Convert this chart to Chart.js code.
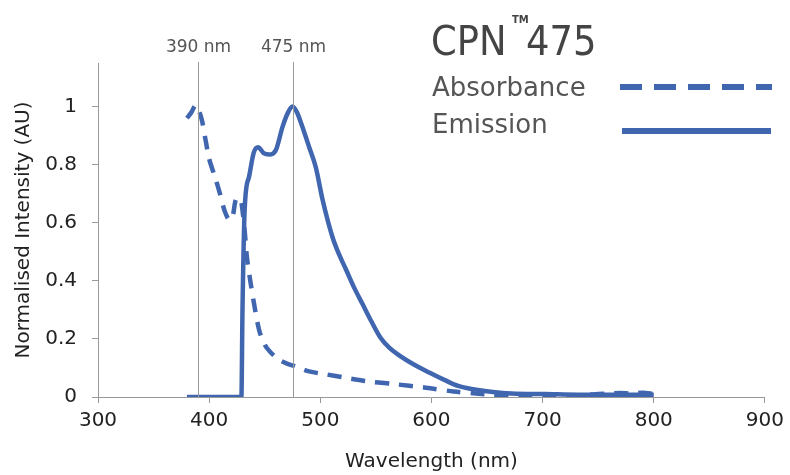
<!DOCTYPE html>
<html>
<head>
<meta charset="utf-8">
<script src="https://cdn.jsdelivr.net/npm/chart.js@4.4.1/dist/chart.umd.min.js"></script>
<style>
html,body{margin:0;padding:0;background:#fff;}
#wrap{width:790px;height:475px;position:relative;}
</style>
</head>
<body>
<div id="wrap"><canvas id="c" width="790" height="475"></canvas></div>
<script>
// ---- data ----
const absWavelength = [380, 384, 388, 393, 397, 400, 405, 409, 414, 418, 421, 424, 427, 429, 432, 434, 437, 440, 445, 450, 455, 463, 470, 478, 490, 505, 520, 540, 565, 595, 620, 640, 655, 670, 685, 700, 712, 725, 740, 750, 760, 770, 780, 790, 800];
const absIntensity  = [0.96, 0.98, 1.005, 0.96, 0.88, 0.82, 0.76, 0.71, 0.64, 0.61, 0.62, 0.68, 0.685, 0.67, 0.57, 0.48, 0.40, 0.33, 0.23, 0.18, 0.155, 0.128, 0.115, 0.105, 0.088, 0.078, 0.068, 0.055, 0.045, 0.032, 0.019, 0.012, 0.008, 0.005, 0.003, 0.003, 0.003, 0.004, 0.008, 0.01, 0.012, 0.014, 0.012, 0.015, 0.01];
const emWavelength = [380, 429, 430, 432, 436, 440, 444, 449, 454, 460, 466, 471, 475, 479, 483, 490, 496, 502, 511, 517, 523, 530, 538, 546, 554, 562, 570, 585, 598, 612, 624, 636, 648, 672, 702, 732, 761, 800];
const emIntensity  = [0, 0, 0.3, 0.65, 0.76, 0.84, 0.86, 0.84, 0.835, 0.85, 0.93, 0.98, 1.0, 0.98, 0.94, 0.86, 0.79, 0.68, 0.55, 0.49, 0.44, 0.38, 0.32, 0.26, 0.205, 0.17, 0.146, 0.11, 0.084, 0.058, 0.038, 0.028, 0.021, 0.012, 0.01, 0.008, 0.008, 0.008];
const xTicks = [300, 400, 500, 600, 700, 800, 900];
const yTicks = [0, 0.2, 0.4, 0.6, 0.8, 1];
const markerWavelengths = [390, 475];
const markerLabels = ["390 nm", "475 nm"];
const titleMain = "CPN";
const titleSup = "TM";
const titleNum = "475";
const seriesNames = ["Absorbance", "Emission"];
const xTitle = "Wavelength (nm)";
const yTitle = "Normalised Intensity (AU)";

const BLUE = '#4066b0';
const FONT = "'DejaVu Sans', sans-serif";
const FONT_C = "'DejaVu Sans Condensed', 'DejaVu Sans', sans-serif";
const toPts = (xs, ys) => xs.map((x, i) => ({x: x, y: ys[i]}));

const overlay = {
  id: 'overlay',
  afterDatasetsDraw(chart) {
    const ctx = chart.ctx;
    const xs = chart.scales.x;
    const ca = chart.chartArea;
    ctx.save();
    ctx.strokeStyle = '#9a9a9a';
    ctx.lineWidth = 1;
    ctx.fillStyle = '#555';
    ctx.font = "17px " + FONT;
    ctx.textAlign = 'center';
    ctx.textBaseline = 'middle';
    markerWavelengths.forEach((w, i) => {
      const px = Math.round(xs.getPixelForValue(w)) + 0.5;
      ctx.beginPath();
      ctx.moveTo(px, ca.top - 1);
      ctx.lineTo(px, ca.bottom);
      ctx.stroke();
      ctx.fillText(markerLabels[i], px, 48);
    });
    ctx.restore();
  },
  afterDraw(chart) {
    const ctx = chart.ctx;
    ctx.save();
    ctx.fillStyle = '#444';
    ctx.textBaseline = 'alphabetic';
    ctx.textAlign = 'left';
    ctx.font = "41px " + FONT_C;
    ctx.fillText(titleMain, 431, 55);
    ctx.font = "bold 10px " + FONT;
    ctx.fillText(titleSup, 512, 23);
    ctx.font = "41px " + FONT_C;
    ctx.fillText(titleNum, 526, 55);
    // legend
    ctx.fillStyle = '#555';
    ctx.font = "26px " + FONT;
    ctx.fillText(seriesNames[0], 432, 96);
    ctx.fillText(seriesNames[1], 432, 133);
    ctx.strokeStyle = BLUE;
    ctx.lineWidth = 6;
    ctx.setLineDash([22, 12]);
    ctx.beginPath(); ctx.moveTo(620, 87); ctx.lineTo(772, 87); ctx.stroke();
    ctx.setLineDash([]);
    ctx.beginPath(); ctx.moveTo(622, 131); ctx.lineTo(771, 131); ctx.stroke();
    ctx.restore();
  }
};

new Chart(document.getElementById('c'), {
  type: 'scatter',
  data: {
    datasets: [
      { label: seriesNames[0], data: toPts(absWavelength, absIntensity), showLine: true,
        borderColor: BLUE, borderWidth: 4.5, borderDash: [14, 10], pointRadius: 0, tension: 0.3, fill: false },
      { label: seriesNames[1], data: toPts(emWavelength, emIntensity), showLine: true,
        borderColor: BLUE, borderWidth: 4.5, pointRadius: 0, cubicInterpolationMode: 'monotone', fill: false }
    ]
  },
  options: {
    responsive: false,
    animation: false,
    devicePixelRatio: 1,
    layout: { padding: { top: 63, right: 23, left: 0, bottom: 0 } },
    plugins: { legend: { display: false }, tooltip: { enabled: false }, title: { display: false } },
    scales: {
      x: {
        type: 'linear', min: xTicks[0], max: xTicks[xTicks.length - 1],
        afterBuildTicks: s => { s.ticks = xTicks.map(v => ({value: v})); },
        afterFit: s => { s.height = 78; },
        ticks: { color: '#222', font: { family: FONT, size: 20 }, padding: 6, maxRotation: 0 },
        grid: { drawOnChartArea: false, tickLength: 6, color: '#999' },
        border: { color: '#999', width: 1 },
        title: { display: true, text: xTitle, color: '#222', font: { family: FONT, size: 20 }, padding: { top: 4, bottom: 1 } }
      },
      y: {
        min: 0, max: 1.15,
        afterBuildTicks: s => { s.ticks = yTicks.map(v => ({value: v})); },
        afterFit: s => { s.width = 98; },
        ticks: { color: '#222', font: { family: FONT, size: 20 }, padding: 15, callback: v => String(v) },
        grid: { drawOnChartArea: false, tickLength: 6, color: '#999' },
        border: { color: '#999', width: 1 },
        title: { display: true, text: yTitle, color: '#222', font: { family: FONT, size: 20 }, padding: { bottom: 0, top: 12 } }
      }
    }
  },
  plugins: [overlay]
});
</script>
</body>
</html>
